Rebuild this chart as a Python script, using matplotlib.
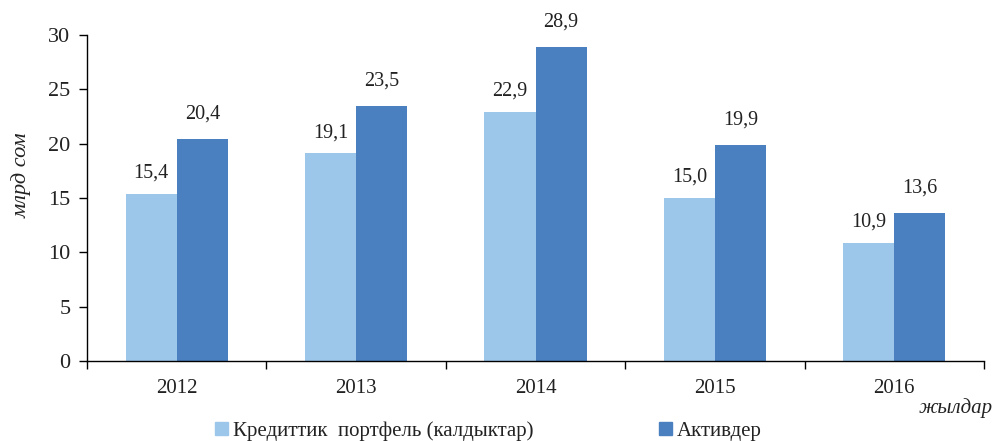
import matplotlib
matplotlib.use('Agg')
import matplotlib.pyplot as plt
import numpy as np
from matplotlib.patches import Patch

years = ['2012', '2013', '2014', '2015', '2016']
credit = [15.4, 19.1, 22.9, 15.0, 10.9]
assets = [20.4, 23.5, 28.9, 19.9, 13.6]
credit_lbl = ['15,4', '19,1', '22,9', '15,0', '10,9']
assets_lbl = ['20,4', '23,5', '28,9', '19,9', '13,6']
series_names = ['Кредиттик  портфель (калдыктар)', 'Активдер']

plt.rcParams['font.family'] = ['Liberation Serif', 'DejaVu Serif']
c_light = '#9DC7EA'
c_dark = '#4A80C0'
txt = '#222222'

fig = plt.figure(figsize=(9.96, 4.41), dpi=100)
ax = fig.add_axes([87/996, 80/441, 897/996, 326/441])

x = np.arange(len(years))
w = 0.285
b1 = ax.bar(x - w/2, credit, w, color=c_light)
b2 = ax.bar(x + w/2, assets, w, color=c_dark)
ax.bar_label(b1, labels=credit_lbl, padding=8, fontsize=14.5, color=txt)
ax.bar_label(b2, labels=assets_lbl, padding=11, fontsize=14.5, color=txt)

ax.set_xlim(-0.5, len(years) - 0.5)
ax.set_ylim(0, 30)
ax.set_yticks(np.arange(0, 31, 5))
ax.set_xticks(x)
ax.set_xticklabels(years)
ax.set_xticks(np.arange(-0.5, len(years)), minor=True)
ax.tick_params(axis='x', which='major', length=0, pad=13, labelsize=15, labelcolor=txt)
ax.tick_params(axis='x', which='minor', length=6, direction='out', width=1)
ax.tick_params(axis='y', length=6, direction='out', width=1, labelsize=16, labelcolor=txt, pad=6)
for s in ['top', 'right']:
    ax.spines[s].set_visible(False)
ax.spines['left'].set_linewidth(1)
ax.spines['bottom'].set_linewidth(1)

fig.text(22/996, 1 - 175/441, 'млрд сом', rotation=90, style='italic',
         fontsize=16, color=txt, ha='center', va='center')
fig.text(993/996, 1 - 408/441, 'жылдар', style='italic', fontsize=15,
         color=txt, ha='right', va='center')

handles = [Patch(color=c_light), Patch(color=c_dark)]
fig.legend(handles, series_names, loc='center left', bbox_to_anchor=(215/996, 1 - 431/441),
           ncol=2, frameon=False, fontsize=15, handlelength=0.6, handleheight=0.6,
           handletextpad=0.25, columnspacing=6.05, borderpad=0, borderaxespad=0,
           labelcolor=txt)

fig.savefig('out.png', dpi=100)
